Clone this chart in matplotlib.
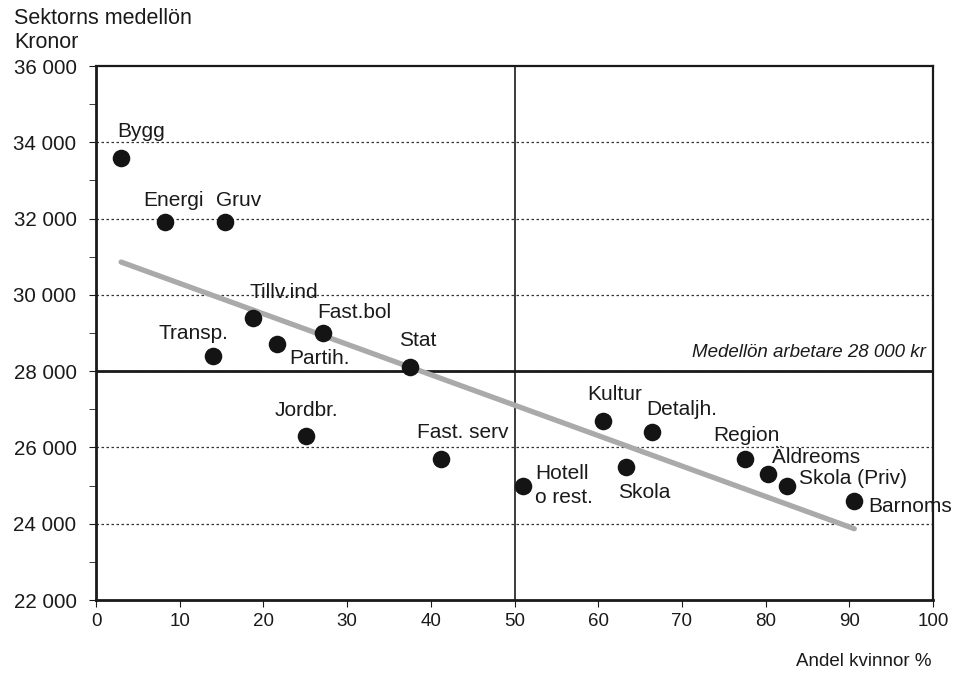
import matplotlib
matplotlib.use("Agg")
import matplotlib.pyplot as plt
from matplotlib.ticker import MultipleLocator, FuncFormatter
import numpy as np

plt.rcParams['font.family'] = ['Liberation Sans', 'DejaVu Sans']

# ---- data ----
sectors = ["Bygg", "Energi", "Gruv", "Tillv.ind", "Fast.bol", "Transp.", "Partih.",
           "Stat", "Jordbr.", "Fast. serv", "Hotell\no rest.", "Kultur", "Skola",
           "Detaljh.", "Region", "Äldreoms", "Skola (Priv)", "Barnoms"]
share_women = [3.0, 8.3, 15.4, 18.8, 27.1, 14.0, 21.6,
               37.5, 25.1, 41.2, 51.0, 60.6, 63.3,
               66.4, 77.5, 80.3, 82.5, 90.6]
mean_wage = [33600, 31900, 31900, 29400, 29000, 28400, 28700,
             28100, 26300, 25700, 25000, 26700, 25500,
             26400, 25700, 25300, 25000, 24600]
worker_wage = 28000
x_ticks = list(range(0, 101, 10))
y_ticks = list(range(22000, 36001, 2000))

# label offsets in points (dx, dy, ha)
label_style = {
    "Bygg": (-3, 19, 'left'),
    "Energi": (6, 16, 'center'),
    "Gruv": (10, 16, 'center'),
    "Tillv.ind": (-3, 18, 'left'),
    "Fast.bol": (-4, 15, 'left'),
    "Transp.": (-14, 16, 'center'),
    "Partih.": (9, -10, 'left'),
    "Stat": (6, 19, 'center'),
    "Jordbr.": (0, 18, 'center'),
    "Fast. serv": (16, 19, 'center'),
    "Hotell\no rest.": (9, 0, 'left'),
    "Kultur": (8, 19, 'center'),
    "Skola": (13, -19, 'center'),
    "Detaljh.": (-4, 16, 'left'),
    "Region": (1, 17, 'center'),
    "Äldreoms": (3, 12, 'left'),
    "Skola (Priv)": (9, 5, 'left'),
    "Barnoms": (10, -4, 'left'),
}

fig = plt.figure(figsize=(9.59, 6.73), dpi=100)
ax = fig.add_axes([96/959, 1-600/673, (933-96)/959, (600-66)/673])

ax.set_xlim(0, 100)
ax.set_ylim(22000, 36000)

# grid
for yv in y_ticks:
    if yv in (22000, 36000):
        continue
    ax.axhline(yv, color='#333333', lw=0.9, ls=(0, (2, 2)), zorder=1)

ax.axhline(worker_wage, color='#1a1a1a', lw=2.0, zorder=2)
ax.axvline(50, color='#1a1a1a', lw=1.2, zorder=2)

# trend line (least squares)
xs = np.array(share_women)
ys = np.array(mean_wage)
k, m = np.polyfit(xs, ys, 1)
xl = np.array([xs.min(), xs.max()])
ax.plot(xl, k*xl + m, color='#aaaaaa', lw=3.8, solid_capstyle='round', zorder=3)

ax.scatter(xs, ys, s=160, color='#141414', zorder=4, linewidths=0)

for name, xv, yv in zip(sectors, share_women, mean_wage):
    dx, dy, ha = label_style[name]
    ax.annotate(name, (xv, yv), xytext=(dx, dy), textcoords='offset points',
                ha=ha, va='center', fontsize=15, color='#1a1a1a',
                linespacing=1.35, zorder=5)

ax.text(99.2, 28490, "Medellön arbetare 28 000 kr", ha='right', va='center',
        fontsize=13.5, style='italic', color='#1a1a1a')

ax.set_xticks(x_ticks)
ax.set_yticks(y_ticks)
ax.yaxis.set_minor_locator(MultipleLocator(1000))
ax.yaxis.set_major_formatter(FuncFormatter(lambda v, p: f"{int(v):,}".replace(",", " ")))
ax.tick_params(axis='both', which='both', direction='out', color='#1a1a1a',
               labelcolor='#1a1a1a')
ax.tick_params(axis='y', which='major', length=5, pad=9, labelsize=14.8)
ax.tick_params(axis='y', which='minor', length=5)
ax.tick_params(axis='x', which='major', length=5, pad=4, labelsize=13.5)

for side in ['left', 'bottom']:
    ax.spines[side].set_linewidth(2.0)
for side in ['top', 'right']:
    ax.spines[side].set_linewidth(1.6)
for s in ax.spines.values():
    s.set_color('#1a1a1a')

fig.text(14/959, 1-18/673, "Sektorns medellön", ha='left', va='center', fontsize=15.5, color='#1a1a1a')
fig.text(14/959, 1-42/673, "Kronor", ha='left', va='center', fontsize=15.5, color='#1a1a1a')
fig.text(932/959, 1-662/673, "Andel kvinnor %", ha='right', va='center', fontsize=13.5, color='#1a1a1a')

fig.savefig("out.png", dpi=100)
